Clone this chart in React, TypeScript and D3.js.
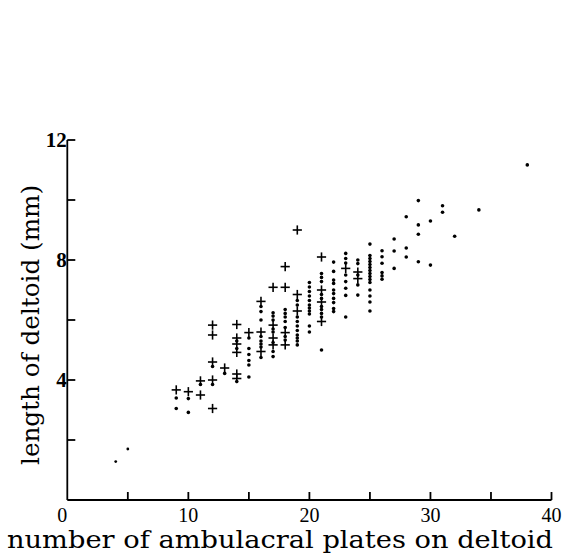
import React from "react";
import * as d3 from "d3";

// dots: [plates, length]
const dotData: [number, number][] = [
  [4, 1.28], [5, 1.7],
  [9, 3.4], [9, 3.05],
  [10, 3.38], [10, 2.92],
  [11, 3.85],
  [12, 4.45], [12, 3.85],
  [13, 4.22],
  [14, 5.3], [14, 5.05], [14, 3.95],
  [15, 5.4], [15, 5.05], [15, 4.85], [15, 4.65], [15, 4.5], [15, 4.1],
  [16, 6.45], [16, 6.28], [16, 6.0], [16, 5.45], [16, 5.3], [16, 5.2], [16, 5.1], [16, 4.75],
  [17, 6.24], [17, 6.13], [17, 6.0], [17, 5.7], [17, 5.6], [17, 5.25], [17, 4.95], [17, 4.78],
  [18, 6.35], [18, 6.22], [18, 6.1], [18, 5.95], [18, 5.75], [18, 5.45], [18, 5.33],
  [19, 6.65], [19, 6.5], [19, 6.1], [19, 5.95], [19, 5.8], [19, 5.65], [19, 5.5], [19, 5.4], [19, 5.3], [19, 5.17],
  [20, 7.25], [20, 7.1], [20, 6.95], [20, 6.8], [20, 6.65], [20, 6.5], [20, 6.4], [20, 6.3], [20, 6.2], [20, 5.8], [20, 5.6],
  [21, 7.55], [21, 7.42], [21, 7.28], [21, 6.85], [21, 6.72], [21, 6.45], [21, 6.35], [21, 6.22], [21, 6.1], [21, 5.0],
  [22, 7.93], [22, 7.62], [22, 7.33], [22, 7.22], [22, 7.0], [22, 6.88], [22, 6.72], [22, 6.58], [22, 6.38], [22, 6.28],
  [23, 8.22], [23, 8.05], [23, 7.9], [23, 7.5], [23, 7.28], [23, 7.06], [23, 6.82], [23, 6.1],
  [24, 8.0], [24, 7.88], [24, 7.5], [24, 7.17], [24, 6.83],
  [25, 8.53], [25, 8.15], [25, 8.05], [25, 7.95], [25, 7.85], [25, 7.75], [25, 7.65], [25, 7.55], [25, 7.45], [25, 7.35], [25, 7.25], [25, 7.0], [25, 6.8], [25, 6.6], [25, 6.3],
  [26, 8.31], [26, 8.11], [26, 7.89], [26, 7.58], [26, 7.47], [26, 7.36],
  [27, 8.7], [27, 8.3], [27, 7.72],
  [28, 9.44], [28, 8.4], [28, 8.1],
  [29, 9.98], [29, 9.17], [29, 8.86], [29, 7.94],
  [30, 9.3], [30, 7.83],
  [31, 9.81], [31, 9.59],
  [32, 8.79],
  [34, 9.67],
  [38, 11.17],
];

// crosses: [plates, length]
const plusData: [number, number][] = [
  [9, 3.67],
  [10, 3.61],
  [11, 3.97], [11, 3.5],
  [12, 5.83], [12, 5.5], [12, 4.6], [12, 4.0], [12, 3.05],
  [13, 4.4],
  [14, 5.85], [14, 5.4], [14, 5.2], [14, 4.92], [14, 4.2], [14, 4.05],
  [15, 5.58],
  [16, 6.62], [16, 5.6], [16, 4.95],
  [17, 7.09], [17, 5.83], [17, 5.4], [17, 5.17],
  [18, 7.78], [18, 7.09], [18, 5.58], [18, 5.17],
  [19, 9.0], [19, 6.85], [19, 6.3],
  [21, 8.1], [21, 7.0], [21, 6.6], [21, 5.95],
  [23, 7.72],
  [24, 7.6], [24, 7.38],
];

const xTicks = [5, 10, 15, 20, 25, 30, 35, 40];
const xTickLabels = [10, 20, 30, 40];
const yTicks = [2, 4, 6, 8, 10, 12];
const yTickLabels = [4, 8, 12];
const xTitle = "number of ambulacral plates on deltoid";
const yTitle = "length of deltoid (mm)";

export default function App() {
  const W = 563, H = 555;
  const x = d3.scaleLinear().domain([0, 40]).range([67.3, 551.5]);
  const y = d3.scaleLinear().domain([0, 12]).range([500, 140]);
  const tickLen = 8;
  const ps = 4.6;
  return (
    <svg width={W} height={H} style={{ position: "absolute", left: 0, top: 0, background: "#fff" }}>
      <rect width={W} height={H} fill="#fff" />
      {/* axes */}
      <g stroke="#000" strokeWidth={1.8} fill="none">
        <line x1={x(0)} x2={x(0)} y1={y(12)} y2={y(0)} />
        <line x1={x(0)} x2={x(40)} y1={y(0)} y2={y(0)} />
        {xTicks.map((t) => (
          <line key={"xt" + t} x1={x(t)} x2={x(t)} y1={y(0)} y2={y(0) - tickLen} />
        ))}
        {yTicks.map((t) => (
          <line key={"yt" + t} x1={x(0)} x2={x(0) + tickLen} y1={y(t)} y2={y(t)} />
        ))}
      </g>
      {/* tick labels */}
      <g fontFamily="'Liberation Serif', 'DejaVu Serif', serif" fill="#000">
        {yTickLabels.map((t) => (
          <text key={"yl" + t} x={x(0) - 0.5} y={y(t) + 6.5} textAnchor="end" fontSize={21} fontWeight="bold">
            {t}
          </text>
        ))}
        <text x={x(0) - 5} y={522} textAnchor="middle" fontSize={20}>0</text>
        {xTickLabels.map((t) => (
          <text key={"xl" + t} x={x(t)} y={522} textAnchor="middle" fontSize={20}>
            {t}
          </text>
        ))}
      </g>
      {/* titles */}
      <text
        x={280}
        y={548}
        textAnchor="middle"
        fontFamily="'DejaVu Serif', 'Liberation Serif', serif"
        fontSize={24}
        textLength={546}
        lengthAdjust="spacingAndGlyphs"
      >
        {xTitle}
      </text>
      <text
        transform={`translate(39, ${325}) rotate(-90)`}
        textAnchor="middle"
        fontFamily="'DejaVu Serif', 'Liberation Serif', serif"
        fontSize={25}
        textLength={280}
        lengthAdjust="spacingAndGlyphs"
      >
        {yTitle}
      </text>
      {/* dots */}
      <g fill="#000">
        {dotData.map(([a, b], i) => (
          <circle key={"d" + i} cx={x(a)} cy={y(b)} r={a < 8 ? 1.4 : 1.8} />
        ))}
      </g>
      {/* crosses */}
      <g stroke="#000" strokeWidth={1.6}>
        {plusData.map(([a, b], i) => (
          <g key={"p" + i}>
            <line x1={x(a) - ps} x2={x(a) + ps} y1={y(b)} y2={y(b)} />
            <line x1={x(a)} x2={x(a)} y1={y(b) - ps} y2={y(b) + ps} />
          </g>
        ))}
      </g>
    </svg>
  );
}
